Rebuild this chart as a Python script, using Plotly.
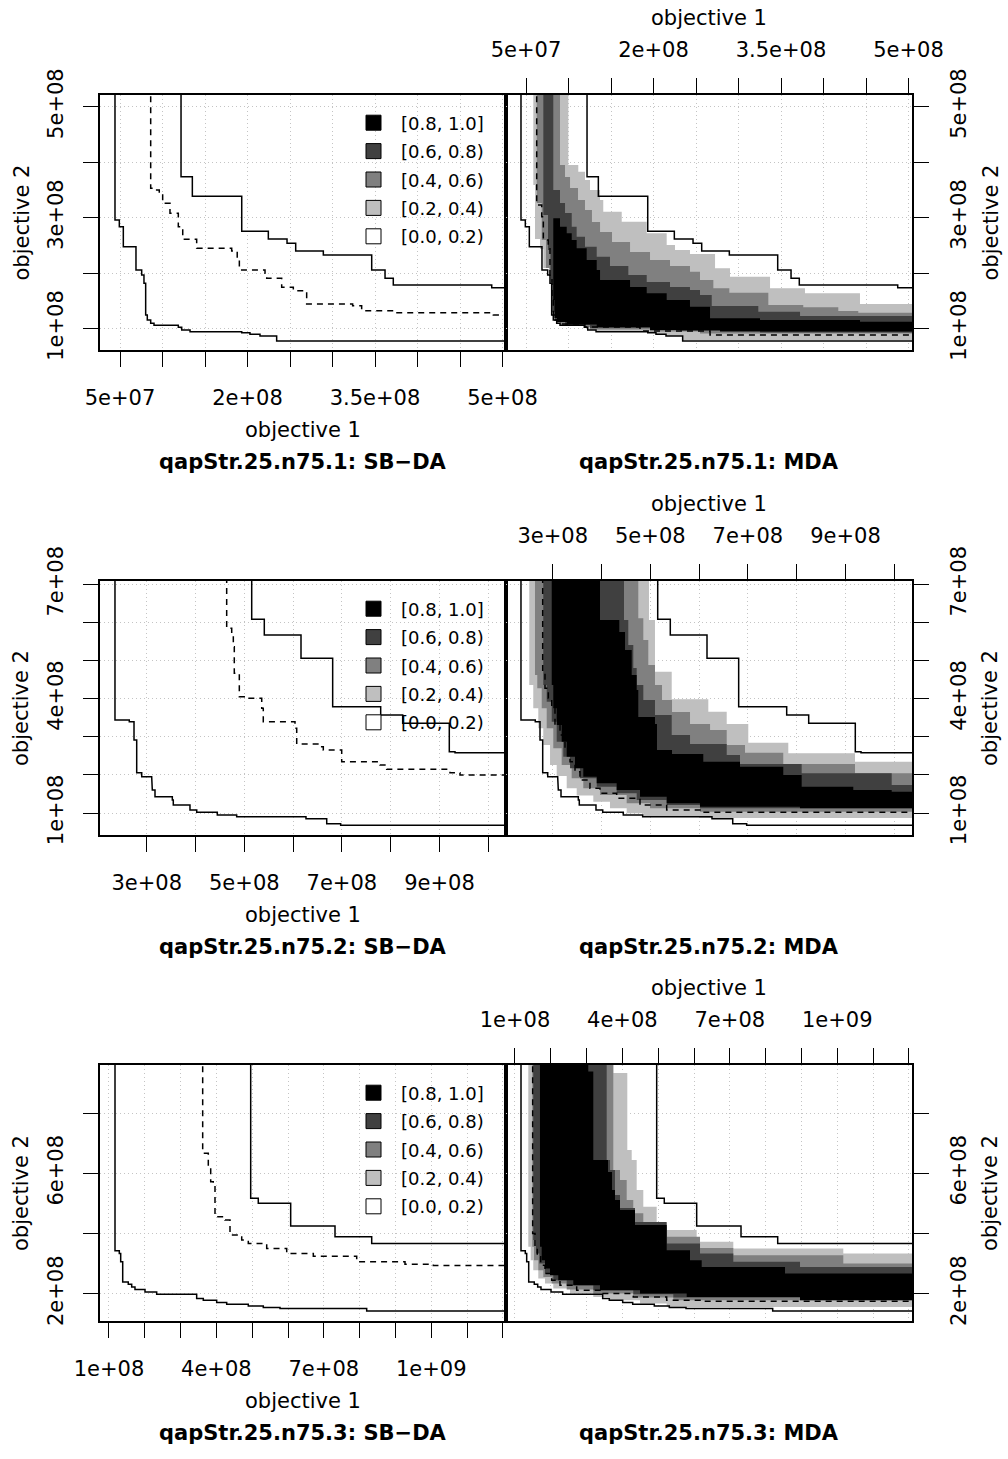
import plotly.graph_objects as go

E8 = 1e8            # every value below is in units of 1e8
FONT = "DejaVu Sans"
W, H = 1008, 1459

# ---------------- qapStr.25.n75.1 ----------------
r1_best_x = [0.441, 0.492, 0.539, 0.688, 0.755, 0.782, 0.802, 0.821, 0.861, 0.900, 1.186, 1.226, 1.324, 1.932, 2.029, 2.147, 2.343]
r1_best_y = [2.959, 2.838, 2.477, 2.058, 1.968, 1.818, 1.247, 1.157, 1.097, 1.061, 1.025, 0.977, 0.946, 0.928, 0.899, 0.868, 0.778]
r1_worst_x = [1.218, 1.351, 1.932, 2.245, 2.465, 2.567, 2.892, 3.461, 3.618, 3.715, 4.873]
r1_worst_y = [3.739, 3.386, 2.755, 2.616, 2.539, 2.400, 2.328, 2.058, 1.908, 1.787, 1.739]
r1_med_sbda_x = [0.861, 0.904, 0.962, 1.002, 1.088, 1.186, 1.238, 1.402, 1.814, 1.879, 1.904, 2.206, 2.226, 2.402, 2.539, 2.696, 3.237, 3.343, 3.715, 4.892]
r1_med_sbda_y = [3.530, 3.499, 3.409, 3.259, 3.079, 2.838, 2.611, 2.449, 2.400, 2.268, 2.058, 1.998, 1.908, 1.746, 1.685, 1.445, 1.414, 1.324, 1.288, 1.247]
r1_med_mda_x = [0.626, 0.685, 0.704, 0.762, 0.782, 0.806, 0.821, 0.841, 0.900, 1.194, 1.841, 2.665]
r1_med_mda_y = [3.229, 3.018, 2.598, 2.477, 1.937, 1.517, 1.247, 1.157, 1.085, 1.030, 0.959, 0.886]
r1_lo02_x = [0.586, 0.606, 0.665, 0.704, 0.774, 0.802, 0.821, 0.861, 0.900, 1.186, 1.229, 1.332, 1.938, 2.029, 2.147, 2.347]
r1_lo02_y = [3.589, 2.616, 2.436, 2.094, 1.977, 1.274, 1.175, 1.103, 1.067, 1.031, 0.986, 0.953, 0.932, 0.905, 0.872, 0.796]
r1_hi02_x = [0.998, 1.115, 1.194, 1.253, 1.371, 1.409, 1.626, 1.920, 2.155, 2.253, 2.429, 2.724, 2.900, 3.371, 3.782, 4.429]
r1_hi02_y = [3.950, 3.829, 3.679, 3.499, 3.319, 3.108, 2.928, 2.719, 2.508, 2.418, 2.346, 2.088, 1.937, 1.728, 1.638, 1.445]
r1_lo04_x = [0.626, 0.685, 0.735, 0.776, 0.802, 0.829, 0.900, 1.206, 1.253, 1.959, 2.547]
r1_lo04_y = [3.265, 2.598, 2.094, 1.986, 1.301, 1.148, 1.076, 1.031, 0.986, 0.950, 0.914]
r1_hi04_x = [0.900, 0.959, 1.018, 1.112, 1.194, 1.276, 1.371, 1.512, 1.724, 1.959, 2.194, 2.429, 2.547, 2.704, 2.892, 3.351, 3.762, 4.174, 4.409]
r1_hi04_y = [3.950, 3.733, 3.535, 3.319, 3.139, 2.923, 2.742, 2.562, 2.382, 2.238, 2.130, 2.027, 1.877, 1.728, 1.649, 1.427, 1.386, 1.319, 1.288]
r1_lo06_x = [0.704, 0.759, 0.788, 0.812, 0.841, 0.959, 1.253, 2.312, 3.253]
r1_lo06_y = [3.049, 2.418, 1.841, 1.301, 1.148, 1.067, 1.013, 0.959, 0.932]
r1_hi06_x = [0.821, 0.900, 0.959, 1.038, 1.096, 1.194, 1.332, 1.488, 1.704, 1.920, 2.194, 2.429, 2.547, 2.685, 3.233, 3.724]
r1_hi06_y = [3.499, 3.265, 3.085, 2.838, 2.658, 2.477, 2.297, 2.130, 1.968, 1.841, 1.751, 1.697, 1.607, 1.409, 1.306, 1.229]
r1_lo08_x = [0.821, 0.835, 0.865, 0.979, 1.332, 1.959, 2.782]
r1_lo08_y = [1.517, 1.193, 1.121, 1.076, 1.031, 0.977, 0.950]
r1_hi08_x = [0.821, 0.900, 0.979, 1.038, 1.096, 1.214, 1.332, 1.371, 1.724, 1.920, 2.155, 2.429, 2.665, 3.253, 4.429]
r1_hi08_y = [2.989, 2.838, 2.719, 2.598, 2.449, 2.238, 2.058, 1.877, 1.751, 1.638, 1.517, 1.396, 1.187, 1.157, 1.126]
r1_xrange = [0.2647, 5.041]
r1_yrange = [0.616, 5.211]
r1_xticks = [0.5, 1.0, 1.5, 2.0, 2.5, 3.0, 3.5, 4.0, 4.5, 5.0]
r1_xticklabels = ["5e+07", "", "", "2e+08", "", "", "3.5e+08", "", "", "5e+08"]
r1_yticks = [1, 2, 3, 4, 5]
r1_yticklabels = ["1e+08", "", "3e+08", "", "5e+08"]

# ---------------- qapStr.25.n75.2 ----------------
r2_best_x = [2.350, 2.643, 2.740, 2.795, 2.898, 3.102, 3.115, 3.170, 3.525, 3.545, 3.887, 4.025, 4.447, 4.844, 6.264, 6.689, 6.975]
r2_best_y = [3.441, 3.396, 2.916, 2.058, 1.953, 1.866, 1.604, 1.428, 1.341, 1.210, 1.079, 1.018, 0.948, 0.903, 0.850, 0.719, 0.677]
r2_worst_x = [5.152, 5.410, 6.162, 6.811, 7.795, 8.246, 9.201, 9.318]
r2_worst_y = [6.084, 5.672, 5.060, 3.790, 3.572, 3.354, 2.609, 2.583]
r2_med_sbda_x = [4.639, 4.742, 4.775, 4.795, 4.898, 5.014, 5.357, 5.389, 6.039, 6.074, 6.586, 6.619, 6.996, 7.781, 7.918, 9.215, 9.420]
r2_med_sbda_y = [5.848, 5.672, 5.365, 4.667, 4.052, 4.010, 3.748, 3.396, 3.223, 2.811, 2.740, 2.654, 2.346, 2.260, 2.147, 2.058, 1.997]
r2_med_mda_x = [2.795, 2.842, 2.910, 2.980, 3.047, 3.150, 3.252, 3.355, 3.457, 3.559, 3.764, 3.969, 4.311, 4.789, 5.336, 6.018]
r2_med_mda_y = [4.709, 4.273, 4.011, 3.748, 3.310, 3.047, 2.698, 2.346, 2.084, 1.866, 1.648, 1.517, 1.386, 1.210, 1.079, 1.018]
r2_lo02_x = [2.520, 2.602, 2.705, 2.807, 2.945, 3.082, 3.287, 3.492, 3.832, 4.174, 4.516, 4.857, 6.018]
r2_lo02_y = [4.360, 3.748, 3.223, 2.785, 2.260, 1.971, 1.648, 1.459, 1.297, 1.123, 0.992, 0.921, 0.869]
r2_hi02_x = [4.973, 5.096, 5.439, 6.189, 6.566, 7.008, 7.828, 9.195]
r2_hi02_y = [6.066, 4.709, 3.984, 3.659, 3.336, 2.845, 2.567, 2.346]
r2_lo04_x = [2.637, 2.684, 2.775, 2.877, 3.012, 3.184, 3.389, 3.627, 3.969, 4.516, 4.994, 6.018]
r2_lo04_y = [4.622, 4.273, 3.748, 3.223, 2.698, 2.260, 1.911, 1.648, 1.472, 1.255, 1.123, 1.034]
r2_hi04_x = [4.754, 4.857, 4.959, 5.096, 5.240, 5.445, 5.814, 6.225, 6.566, 6.941, 7.725, 9.195]
r2_hi04_y = [6.110, 5.541, 4.885, 4.360, 3.966, 3.651, 3.336, 3.178, 2.785, 2.583, 2.286, 2.042]
r2_lo06_x = [2.807, 2.877, 2.980, 3.082, 3.217, 3.355, 3.559, 3.902, 4.311, 4.721, 5.336, 6.018]
r2_lo06_y = [4.360, 3.921, 3.396, 2.871, 2.478, 2.173, 1.911, 1.690, 1.517, 1.341, 1.210, 1.123]
r2_hi06_x = [4.461, 4.549, 4.652, 4.721, 4.857, 5.096, 5.439, 5.814, 6.566, 6.838, 8.102, 9.947]
r2_hi06_y = [6.066, 5.409, 4.806, 4.360, 3.966, 3.572, 3.047, 2.811, 2.522, 2.286, 2.042, 1.735]
r2_lo08_x = [2.980, 3.012, 3.082, 3.184, 3.287, 3.457, 3.627, 3.902, 4.311, 4.789, 5.336, 6.018, 8.067]
r2_lo08_y = [4.360, 3.748, 3.310, 2.871, 2.478, 2.173, 1.953, 1.780, 1.604, 1.428, 1.255, 1.165, 1.123]
r2_hi08_x = [3.969, 4.365, 4.482, 4.619, 4.721, 4.754, 5.096, 5.137, 5.445, 6.086, 6.838, 7.725, 8.102, 9.160, 9.947]
r2_hi08_y = [6.066, 5.751, 5.278, 4.622, 4.228, 3.520, 3.336, 2.654, 2.549, 2.346, 2.215, 1.997, 1.690, 1.604, 1.559]
r2_xrange = [2.043, 10.363]
r2_yrange = [0.4226, 7.089]
r2_xticks = [3, 4, 5, 6, 7, 8, 9, 10]
r2_xticklabels = ["3e+08", "", "5e+08", "", "7e+08", "", "9e+08", ""]
r2_yticks = [1, 2, 3, 4, 5, 6, 7]
r2_yticklabels = ["1e+08", "", "", "4e+08", "", "", "7e+08"]

# ---------------- qapStr.25.n75.3 ----------------
r3_best_x = [1.168, 1.288, 1.327, 1.383, 1.539, 1.634, 1.726, 2.006, 2.332, 3.449, 3.634, 4.008, 4.288, 4.891, 5.310, 5.777, 8.198]
r3_best_y = [3.431, 3.344, 3.065, 2.399, 2.323, 2.233, 2.146, 2.067, 1.990, 1.847, 1.790, 1.714, 1.657, 1.601, 1.547, 1.514, 1.434]
r3_worst_x = [4.958, 5.170, 6.075, 7.313, 8.338]
r3_worst_y = [5.175, 5.008, 4.253, 3.897, 3.677]
r3_med_sbda_x = [3.617, 3.774, 3.841, 3.913, 3.961, 4.240, 4.380, 4.707, 4.891, 5.405, 5.964, 6.707, 7.919, 9.268, 10.059]
r3_med_sbda_y = [6.672, 6.226, 5.727, 5.674, 4.562, 4.453, 3.953, 3.787, 3.677, 3.511, 3.344, 3.255, 3.065, 2.988, 2.945]
r3_med_mda_x = [1.494, 1.559, 1.623, 1.718, 1.838, 2.025, 2.257, 2.723, 3.374, 4.304, 5.237, 6.168]
r3_med_mda_y = [4.010, 3.564, 3.231, 2.955, 2.679, 2.456, 2.290, 2.123, 2.013, 1.900, 1.790, 1.757]
r3_lo02_x = [1.372, 1.439, 1.511, 1.651, 1.838, 2.070, 2.536, 3.187, 3.654, 4.492, 5.237]
r3_lo02_y = [3.564, 3.121, 2.789, 2.512, 2.346, 2.180, 2.013, 1.900, 1.790, 1.681, 1.567]
r3_hi02_x = [3.746, 4.137, 4.260, 4.399, 4.584, 4.958, 5.237, 6.075, 7.098, 10.170]
r3_hi02_y = [9.335, 6.782, 6.449, 5.451, 4.895, 4.343, 4.120, 3.730, 3.511, 3.344]
r3_lo04_x = [1.483, 1.531, 1.651, 1.791, 2.025, 2.444, 3.187, 4.304, 5.422]
r3_lo04_y = [3.564, 3.121, 2.789, 2.566, 2.346, 2.146, 2.013, 1.880, 1.790]
r3_hi04_x = [3.746, 3.933, 4.120, 4.304, 4.584, 5.237, 6.168, 7.098, 10.170]
r3_hi04_y = [6.116, 5.783, 5.118, 4.676, 4.230, 3.897, 3.521, 3.288, 3.012]
r3_lo06_x = [1.511, 1.587, 1.679, 1.838, 2.070, 2.444, 3.187, 4.304, 5.422]
r3_lo06_y = [3.787, 3.344, 3.012, 2.679, 2.456, 2.290, 2.123, 1.990, 1.880]
r3_hi06_x = [3.561, 3.654, 3.793, 3.933, 4.352, 5.237, 6.168, 7.098, 8.961]
r3_hi06_y = [6.449, 6.116, 5.285, 4.852, 4.386, 3.677, 3.344, 3.065, 2.898]
r3_lo08_x = [1.698, 1.746, 1.838, 1.978, 2.209, 2.628, 3.374, 4.492, 5.796, 8.961]
r3_lo08_y = [3.564, 3.121, 2.845, 2.622, 2.456, 2.290, 2.123, 2.013, 1.900, 1.790]
r3_hi08_x = [3.047, 3.187, 3.598, 3.709, 3.793, 3.933, 4.352, 5.237, 5.888, 6.215, 8.542]
r3_hi08_y = [9.388, 6.449, 6.050, 5.451, 5.118, 4.786, 4.286, 3.454, 3.122, 2.898, 2.679]
r3_xrange = [0.749, 12.089]
r3_yrange = [1.1015, 9.600]
r3_xticks = [1, 2, 3, 4, 5, 6, 7, 8, 9, 10, 11, 12]
r3_xticklabels = ["1e+08", "", "", "4e+08", "", "", "7e+08", "", "", "1e+09", "", ""]
r3_yticks = [2, 4, 6, 8]
r3_yticklabels = ["2e+08", "", "6e+08", ""]

LEVEL_FILLS = ["#bfbfbf", "#808080", "#404040", "#000000"]          # >=0.2, >=0.4, >=0.6, >=0.8
LEGEND_LABELS = ["[0.8, 1.0]", "[0.6, 0.8)", "[0.4, 0.6)", "[0.2, 0.4)", "[0.0, 0.2)"]
LEGEND_COLORS = ["#000000", "#404040", "#808080", "#bfbfbf", "#ffffff"]
INSTANCES = ["qapStr.25.n75.1", "qapStr.25.n75.2", "qapStr.25.n75.3"]
ALGOS = ["SB\u2212DA", "MDA"]

rows = [
    dict(xr=r1_xrange, yr=r1_yrange, xt=r1_xticks, xtl=r1_xticklabels, yt=r1_yticks, ytl=r1_yticklabels,
         best=(r1_best_x, r1_best_y), worst=(r1_worst_x, r1_worst_y),
         med_l=(r1_med_sbda_x, r1_med_sbda_y), med_r=(r1_med_mda_x, r1_med_mda_y),
         lo=[(r1_lo02_x, r1_lo02_y), (r1_lo04_x, r1_lo04_y), (r1_lo06_x, r1_lo06_y), (r1_lo08_x, r1_lo08_y)],
         hi=[(r1_hi02_x, r1_hi02_y), (r1_hi04_x, r1_hi04_y), (r1_hi06_x, r1_hi06_y), (r1_hi08_x, r1_hi08_y)],
         top=95, bot=350),
    dict(xr=r2_xrange, yr=r2_yrange, xt=r2_xticks, xtl=r2_xticklabels, yt=r2_yticks, ytl=r2_yticklabels,
         best=(r2_best_x, r2_best_y), worst=(r2_worst_x, r2_worst_y),
         med_l=(r2_med_sbda_x, r2_med_sbda_y), med_r=(r2_med_mda_x, r2_med_mda_y),
         lo=[(r2_lo02_x, r2_lo02_y), (r2_lo04_x, r2_lo04_y), (r2_lo06_x, r2_lo06_y), (r2_lo08_x, r2_lo08_y)],
         hi=[(r2_hi02_x, r2_hi02_y), (r2_hi04_x, r2_hi04_y), (r2_hi06_x, r2_hi06_y), (r2_hi08_x, r2_hi08_y)],
         top=581, bot=835),
    dict(xr=r3_xrange, yr=r3_yrange, xt=r3_xticks, xtl=r3_xticklabels, yt=r3_yticks, ytl=r3_yticklabels,
         best=(r3_best_x, r3_best_y), worst=(r3_worst_x, r3_worst_y),
         med_l=(r3_med_sbda_x, r3_med_sbda_y), med_r=(r3_med_mda_x, r3_med_mda_y),
         lo=[(r3_lo02_x, r3_lo02_y), (r3_lo04_x, r3_lo04_y), (r3_lo06_x, r3_lo06_y), (r3_lo08_x, r3_lo08_y)],
         hi=[(r3_hi02_x, r3_hi02_y), (r3_hi04_x, r3_hi04_y), (r3_hi06_x, r3_hi06_y), (r3_hi08_x, r3_hi08_y)],
         top=1065, bot=1321),
]

PANEL_L, PANEL_M, PANEL_R = 100, 506, 912


def stairs(xs, ys, top, right):
    """Attainment-surface staircase through points (vertical drop, then horizontal run)."""
    vx, vy = [xs[0]], [top]
    for i in range(len(xs)):
        if i > 0:
            vx.append(xs[i]); vy.append(ys[i - 1])
        vx.append(xs[i]); vy.append(ys[i])
    vx.append(right); vy.append(ys[-1])
    return [v * E8 for v in vx], [v * E8 for v in vy]


def px(x):
    return x / W


def py(y):
    return 1 - y / H


fig = go.Figure()
axis_common = dict(
    showline=True, linecolor="black", linewidth=1.5, mirror=True,
    ticks="outside", ticklen=15, tickwidth=1.2, tickcolor="black",
    showgrid=True, gridcolor="#c4c4c4", griddash="1px,3px", gridwidth=1,
    zeroline=False, tickfont=dict(family=FONT, size=21, color="black"),
    tickmode="array", fixedrange=True, automargin=False,
)
layout = dict(width=W, height=H, margin=dict(l=0, r=0, t=0, b=0, autoexpand=False),
              paper_bgcolor="white", plot_bgcolor="white", showlegend=True,
              font=dict(family=FONT, color="black"), annotations=[])

for r, row in enumerate(rows):
    top_v = row["yr"][1] * 1.3
    right_v = row["xr"][1] * 1.3
    for k, side in enumerate(("left", "right")):
        n = 2 * r + k + 1
        xa = "x" if n == 1 else f"x{n}"
        ya = "y" if n == 1 else f"y{n}"
        xdom = [px(PANEL_L), px(PANEL_M)] if side == "left" else [px(PANEL_M), px(PANEL_R)]
        layout["xaxis" if n == 1 else f"xaxis{n}"] = dict(
            domain=xdom, anchor=ya, range=[v * E8 for v in row["xr"]],
            side="bottom" if side == "left" else "top",
            tickvals=[v * E8 for v in row["xt"]], ticktext=row["xtl"],
            ticklabelstandoff=13, **axis_common)
        layout["yaxis" if n == 1 else f"yaxis{n}"] = dict(
            domain=[py(row["bot"]), py(row["top"])], anchor=xa, range=[v * E8 for v in row["yr"]],
            side="left" if side == "left" else "right",
            tickvals=[v * E8 for v in row["yt"]], ticktext=row["ytl"], tickangle=-90,
            ticklabelstandoff=12, **axis_common)

        if side == "right":
            for (lx, ly), (hx, hy), col in zip(row["lo"], row["hi"], LEVEL_FILLS):
                ax_, ay_ = stairs(lx, ly, top_v, right_v)
                bx_, by_ = stairs(hx, hy, top_v, right_v)
                fig.add_trace(go.Scatter(
                    x=ax_ + bx_[::-1], y=ay_ + by_[::-1], mode="lines", fill="toself",
                    fillcolor=col, line=dict(width=0, color=col), xaxis=xa, yaxis=ya,
                    showlegend=False, hoverinfo="skip"))
        med = row["med_l"] if side == "left" else row["med_r"]
        for (sx, sy), dash in ((row["best"], "solid"), (med, "6px,5px"), (row["worst"], "solid")):
            vx, vy = stairs(sx, sy, top_v, right_v)
            fig.add_trace(go.Scatter(x=vx, y=vy, mode="lines",
                                     line=dict(color="black", width=1.5, dash=dash),
                                     xaxis=xa, yaxis=ya, showlegend=False, hoverinfo="skip"))

    # legend (one per row, inside the left panel)
    lname = "legend" if r == 0 else f"legend{r + 1}"
    for i, (lab, col) in enumerate(zip(LEGEND_LABELS, LEGEND_COLORS)):
        fig.add_trace(go.Scatter(
            x=[None], y=[None], mode="markers", name=lab,
            marker=dict(symbol="square", size=15, color=col, line=dict(color="black", width=1)),
            xaxis="x" if r == 0 else f"x{2 * r + 1}", yaxis="y" if r == 0 else f"y{2 * r + 1}",
            legend=lname, legendgroup=f"g{r}_{i}", showlegend=True))
    layout[lname] = dict(x=px(346), y=py(row["top"] + 9.5), xanchor="left", yanchor="top",
                         bgcolor="rgba(0,0,0,0)", borderwidth=0, itemwidth=45,
                         tracegroupgap=2, traceorder="grouped",
                         font=dict(family=FONT, size=18, color="black"))

    # axis titles and panel titles
    cy = (row["top"] + row["bot"]) / 2
    ann = layout["annotations"]
    ann.append(dict(text="objective 1", x=px(303), y=py(row["bot"] + 80)))
    ann.append(dict(text="objective 1", x=px(709), y=py(row["top"] - 77)))
    ann.append(dict(text="objective 2", x=px(21), y=py(cy), textangle=-90))
    ann.append(dict(text="objective 2", x=px(990), y=py(cy), textangle=-90))
    ann.append(dict(text=f"<b>{INSTANCES[r]}: {ALGOS[0]}</b>", x=px(303), y=py(row["bot"] + 112)))
    ann.append(dict(text=f"<b>{INSTANCES[r]}: {ALGOS[1]}</b>", x=px(709), y=py(row["bot"] + 112)))

for a in layout["annotations"]:
    a.update(xref="paper", yref="paper", xanchor="center", yanchor="middle",
             showarrow=False, font=dict(family=FONT, size=21, color="black"))

fig.update_layout(**layout)
fig.write_html("out.html")
